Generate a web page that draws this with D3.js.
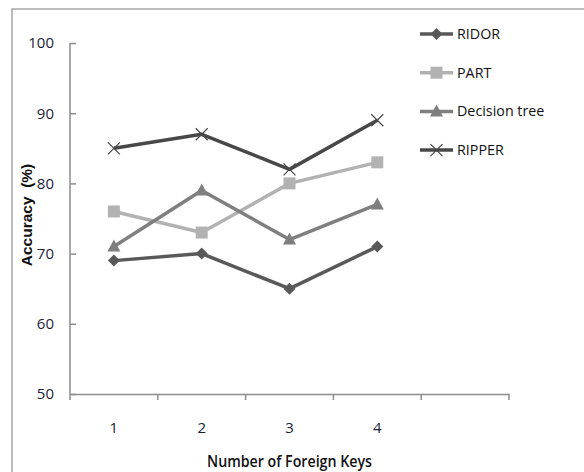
<!DOCTYPE html>
<html><head><meta charset="utf-8">
<script src="https://cdn.jsdelivr.net/npm/d3@7"></script>
<style>body{margin:0;background:#fff;} svg{display:block;}</style>
</head><body>
<script>
const categories = ["1", "2", "3", "4", ""];
const seriesNames = ["RIDOR", "PART", "Decision tree", "RIPPER"];
const ridor = [69, 70, 65, 71];
const part = [76, 73, 80, 83];
const decisionTree = [71, 79, 72, 77];
const ripper = [85, 87, 82, 89];
const yTicks = [50, 60, 70, 80, 90, 100];

const series = [
  {name: seriesNames[0], values: ridor, color: "#595959", marker: "diamond"},
  {name: seriesNames[1], values: part, color: "#b2b2b2", marker: "square"},
  {name: seriesNames[2], values: decisionTree, color: "#7f7f7f", marker: "triangle"},
  {name: seriesNames[3], values: ripper, color: "#484848", marker: "cross"}
];

const W = 584, H = 472;
const svg = d3.select("body").append("svg").attr("width", W).attr("height", H);

// outer frame
svg.append("rect").attr("x", 12).attr("y", 9).attr("width", W).attr("height", H)
  .attr("fill", "none").attr("stroke", "#a6a6a6").attr("stroke-width", 1.5);

const x = d3.scaleBand().domain(categories).range([70, 509]);
const y = d3.scaleLinear().domain([50, 100]).range([394, 43]);

const tickCol = "#1c1c3a";
// y axis
const gy = svg.append("g").attr("transform", "translate(70,0)")
  .call(d3.axisRight(y).tickValues(yTicks).tickSize(6).tickFormat(d3.format("d")));
gy.select(".domain").attr("stroke", "#8c8c8c").attr("stroke-width", 1.5).attr("d", "M0,394V43");
gy.selectAll(".tick line").attr("stroke", "#8c8c8c").attr("stroke-width", 1.5);
gy.selectAll(".tick text").attr("x", -16).attr("text-anchor", "end")
  .attr("font-family", "Open Sans, sans-serif").attr("font-size", 15).attr("fill", tickCol);

// x axis
const gx = svg.append("g").attr("transform", "translate(0,394)")
  .call(d3.axisBottom(x).tickSize(0));
gx.select(".domain").attr("stroke", "#8c8c8c").attr("stroke-width", 1.5);
gx.selectAll(".tick line").remove();
gx.selectAll(".tick text").attr("y", 28)
  .attr("font-family", "Open Sans, sans-serif").attr("font-size", 15).attr("fill", tickCol);
// category boundary ticks
const bounds = categories.map(c => x(c)).concat([x.range()[1]]);
gx.selectAll(".bt").data(bounds).enter().append("line")
  .attr("x1", d => d).attr("x2", d => d).attr("y1", 0).attr("y2", 6)
  .attr("stroke", "#8c8c8c").attr("stroke-width", 1.5);

// axis titles
svg.append("text").attr("x", 207).attr("y", 467)
  .attr("font-family", "Open Sans, sans-serif").attr("font-size", 16).attr("font-weight", 600)
  .attr("fill", "#111").attr("textLength", 165).attr("lengthAdjust", "spacingAndGlyphs")
  .text("Number of Foreign Keys");
svg.append("text").attr("transform", "translate(32,215) rotate(-90)").attr("text-anchor", "middle")
  .attr("font-family", "Liberation Sans, Arial, sans-serif").attr("font-weight", "bold")
  .attr("font-size", 15.5).attr("fill", "#111").attr("xml:space", "preserve")
  .text("Accuracy  (%)");

function drawMarker(g, type, cx, cy, color) {
  if (type === "diamond") {
    g.append("path").attr("d", `M${cx},${cy-6}L${cx+6},${cy}L${cx},${cy+6}L${cx-6},${cy}Z`).attr("fill", color);
  } else if (type === "square") {
    g.append("rect").attr("x", cx-6).attr("y", cy-6).attr("width", 12).attr("height", 12).attr("fill", color);
  } else if (type === "triangle") {
    g.append("path").attr("d", `M${cx},${cy-7}L${cx+6.5},${cy+5}L${cx-6.5},${cy+5}Z`).attr("fill", color);
  } else {
    g.append("path").attr("d", `M${cx-6},${cy-6}L${cx+6},${cy+6}M${cx+6},${cy-6}L${cx-6},${cy+6}`)
      .attr("stroke", color).attr("stroke-width", 1.2).attr("fill", "none");
  }
}

const line = d3.line().x((d, i) => x(categories[i]) + x.bandwidth() / 2).y(d => y(d));
series.forEach(s => {
  const g = svg.append("g");
  g.append("path").datum(s.values).attr("d", line).attr("fill", "none")
    .attr("stroke", s.color).attr("stroke-width", 3.5).attr("stroke-linejoin", "round");
  s.values.forEach((v, i) => drawMarker(g, s.marker, x(categories[i]) + x.bandwidth() / 2, y(v), s.color));
});

// legend
const leg = svg.append("g");
series.forEach((s, i) => {
  const ly = 34 + i * 38.7;
  leg.append("line").attr("x1", 420).attr("x2", 453).attr("y1", ly).attr("y2", ly)
    .attr("stroke", s.color).attr("stroke-width", 3.5);
  drawMarker(leg, s.marker, 436.5, ly, s.color);
  leg.append("text").attr("x", 457).attr("y", ly).attr("dy", "0.35em")
    .attr("font-family", "Open Sans, sans-serif").attr("font-size", 14.3).attr("fill", "#111")
    .text(s.name);
});
</script>
</body></html>
